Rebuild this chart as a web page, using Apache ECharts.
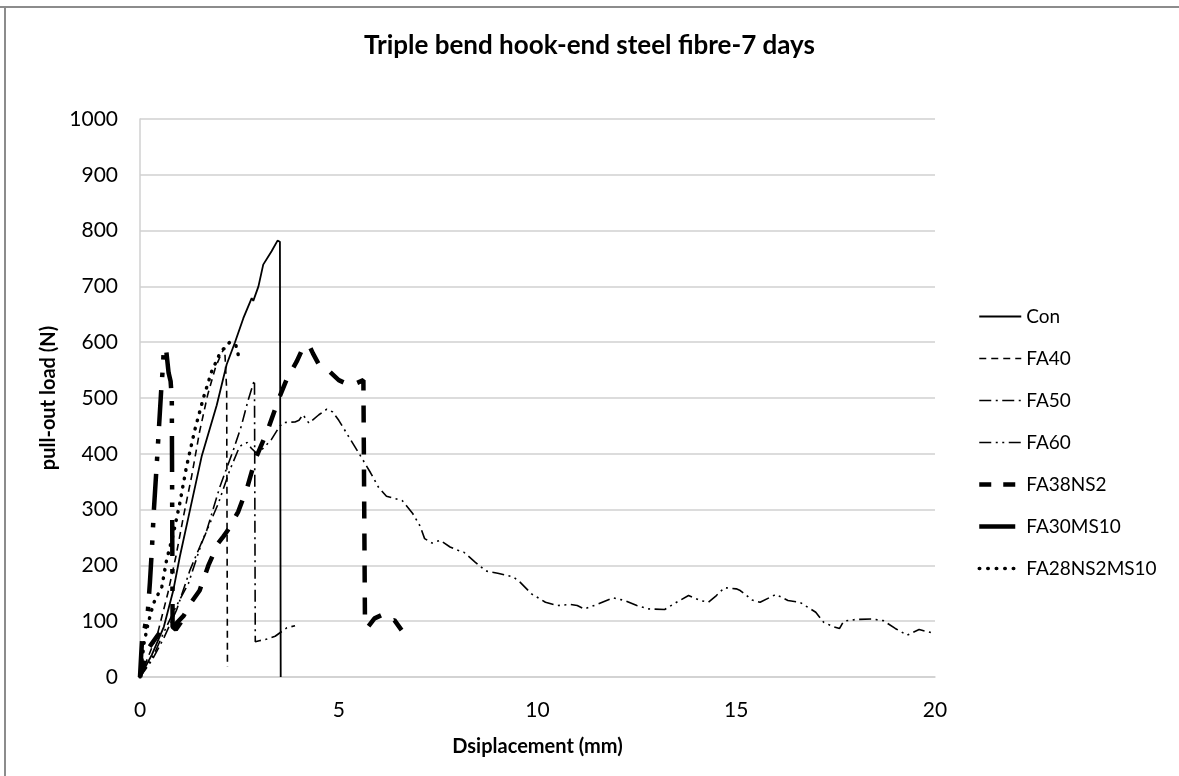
<!DOCTYPE html>
<html>
<head>
<meta charset="utf-8">
<script src="https://cdn.jsdelivr.net/npm/echarts@6/dist/echarts.min.js"></script>
<style>
  html, body { margin: 0; padding: 0; background: #fff; }
  #chart { width: 1179px; height: 776px; }
</style>
</head>
<body>
<div id="chart"></div>
<script>
// pull-out curves, [displacement mm, load N]
const con = [[0,0],[0.3,40],[0.6,90],[0.84,156],[1.0,215],[1.22,287],[1.55,395],[1.93,487],[2.18,560],[2.39,600],[2.6,643],[2.81,679],[2.85,674],[2.98,700],[3.1,739],[3.31,763],[3.46,782],[3.52,780],[3.54,0]];
const fa40 = [[0,0],[0.2,35],[0.45,80],[0.7,150],[0.9,215],[1.1,290],[1.3,360],[1.5,440],[1.7,505],[1.9,555],[2.05,580],[2.13,590],[2.18,515],[2.2,18]];
const fa50 = [[0,0],[0.3,30],[0.6,70],[0.92,120],[1.26,192],[1.68,263],[2.01,341],[2.35,407],[2.55,450],[2.72,496],[2.85,526],[2.88,532],[2.9,63],[3.0,65],[3.2,68],[3.4,73],[3.69,88],[3.9,92]];
const fa60 = [[0,0],[0.35,40],[0.6,80],[0.9,125],[1.22,168],[1.55,240],[1.97,311],[2.26,371],[2.5,412],[2.6,418],[2.7,420],[2.8,410],[2.95,400],[3.1,410],[3.3,425],[3.5,448],[3.6,456],[3.9,457],[4.0,460],[4.1,470],[4.25,455],[4.5,470],[4.7,480],[4.85,475],[5.0,460],[5.3,425],[5.6,390],[5.8,366],[6.0,340],[6.2,324],[6.6,316],[6.86,293],[7.05,270],[7.16,248],[7.35,240],[7.55,245],[7.8,233],[8.0,227],[8.14,224],[8.43,206],[8.7,190],[9.0,186],[9.4,179],[9.56,170],[9.85,149],[10.2,134],[10.5,128],[10.83,130],[11.0,128],[11.18,122],[11.5,130],[11.9,142],[12.2,137],[12.5,128],[12.8,122],[13.2,121],[13.5,134],[13.8,146],[14.1,137],[14.3,134],[14.5,146],[14.7,160],[15.0,158],[15.1,155],[15.4,138],[15.6,134],[16.0,148],[16.3,137],[16.6,134],[17.0,116],[17.2,98],[17.45,90],[17.6,87],[17.7,100],[18.0,103],[18.4,104],[18.7,101],[19.0,87],[19.3,75],[19.6,85],[20.0,78]];
const fa38ns2 = [[0,0],[0.2,50],[0.5,80],[0.9,95],[1.1,110],[1.3,135],[1.5,155],[1.72,200],[1.97,240],[2.1,252],[2.2,262],[2.47,296],[2.7,340],[2.9,390],[3.2,440],[3.5,500],[3.7,535],[3.94,565],[4.1,590],[4.25,595],[4.35,580],[4.5,560],[4.7,552],[5.0,532],[5.3,522],[5.62,532],[5.66,93],[5.74,90],[5.9,105],[6.08,111],[6.3,100],[6.4,102],[6.58,84]];
const fa30ms10 = [[0,0],[0.03,40],[0.06,75],[0.12,88],[0.2,120],[0.25,170],[0.3,230],[0.35,300],[0.42,380],[0.48,450],[0.53,510],[0.58,560],[0.6,590],[0.66,585],[0.72,545],[0.77,530],[0.8,500],[0.82,90],[0.9,85],[1.0,95],[1.1,90]];
const fa28ns2ms10 = [[0,0],[0.1,60],[0.2,95],[0.34,132],[0.55,162],[0.67,210],[0.84,257],[1.0,311],[1.17,377],[1.38,443],[1.59,499],[1.8,547],[2.01,580],[2.18,595],[2.26,600],[2.41,595],[2.47,578]];

const seriesNames = ['Con', 'FA40', 'FA50', 'FA60', 'FA38NS2', 'FA30MS10', 'FA28NS2MS10'];
const xTicks = [0, 5, 10, 15, 20];
const yTicks = [0, 100, 200, 300, 400, 500, 600, 700, 800, 900, 1000];

const font = 'Lato, "Open Sans", sans-serif';
const chart = echarts.init(document.getElementById('chart'));

// line look per series: width, dash pattern, cap
const looks = {
  'Con':         { width: 1.8, type: 'solid', cap: 'butt' },
  'FA40':        { width: 1.6, type: [7, 5], cap: 'butt' },
  'FA50':        { width: 1.6, type: [12, 4.5, 2, 4.5], cap: 'butt' },
  'FA60':        { width: 1.6, type: [12, 4.5, 2, 4.5, 2, 4.5], cap: 'butt' },
  'FA38NS2':     { width: 4.5, type: [17, 15], cap: 'butt' },
  'FA30MS10':    { width: 4.5, type: [36, 13, 4.5, 13, 4.5, 13], cap: 'butt' },
  'FA28NS2MS10': { width: 3.5, type: [0.5, 8], cap: 'round' }
};
const seriesData = [con, fa40, fa50, fa60, fa38ns2, fa30ms10, fa28ns2ms10];

chart.setOption({
  animation: false,
  backgroundColor: '#fff',
  title: {
    text: 'Triple bend hook-end steel fibre-7 days',
    left: 'center', top: 28,
    textStyle: { fontFamily: font, fontWeight: 'bold', fontSize: 26, color: '#000' }
  },
  legend: {
    orient: 'vertical', left: 972, top: 302,
    itemWidth: 42, itemHeight: 14, itemGap: 23,
    itemStyle: { opacity: 0, borderWidth: 0 },
    textStyle: { fontFamily: font, fontSize: 19, color: '#000' },
    data: seriesNames.map(n => ({
      name: n,
      lineStyle: { color: '#000', width: looks[n].width, type: n === 'FA38NS2' ? [12, 12] : looks[n].type, cap: looks[n].cap }
    }))
  },
  grid: { left: 140, right: 244, top: 119, bottom: 99 },
  xAxis: {
    type: 'value', min: xTicks[0], max: xTicks[xTicks.length - 1], interval: 5,
    name: 'Dsiplacement (mm)', nameLocation: 'middle', nameGap: 60,
    nameTextStyle: { fontFamily: font, fontWeight: 'bold', fontSize: 20, color: '#000' },
    axisLine: { lineStyle: { color: '#d0d0d0', width: 1.5 } },
    axisTick: { show: false },
    splitLine: { show: false },
    axisLabel: { margin: 23, fontFamily: font, fontSize: 21, color: '#000' }
  },
  yAxis: {
    type: 'value', min: yTicks[0], max: yTicks[yTicks.length - 1], interval: 100,
    name: 'pull-out load (N)', nameLocation: 'middle', nameGap: 66, nameRotate: 90,
    nameTextStyle: { fontFamily: font, fontWeight: 'bold', fontSize: 20, color: '#000' },
    axisLine: { show: true, lineStyle: { color: '#d0d0d0', width: 1.5 } },
    axisTick: { show: false },
    splitLine: { lineStyle: { color: '#d0d0d0', width: 1.5 } },
    axisLabel: { margin: 22, fontFamily: font, fontSize: 21, color: '#000', formatter: v => String(v) }
  },
  graphic: [
    { type: 'line', shape: { x1: 0, y1: 7, x2: 1179, y2: 7 }, style: { stroke: '#8c8c8c', lineWidth: 2 } },
    { type: 'line', shape: { x1: 5, y1: 7, x2: 5, y2: 776 }, style: { stroke: '#8c8c8c', lineWidth: 2 } }
  ],
  series: seriesNames.map((n, i) => ({
    name: n, type: 'line', data: seriesData[i], symbol: 'none', showSymbol: false,
    lineStyle: { color: '#000', width: looks[n].width, type: looks[n].type, cap: looks[n].cap },
    itemStyle: { color: '#000' },
    emphasis: { disabled: true }
  }))
});
</script>
</body>
</html>
